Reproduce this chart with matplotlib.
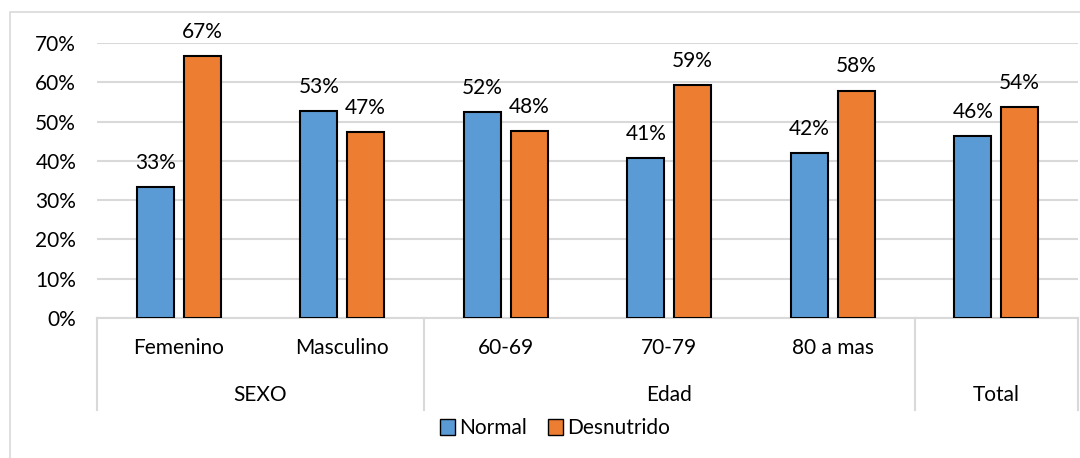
import numpy as np
import matplotlib.pyplot as plt
from matplotlib.patches import Rectangle, Patch
import matplotlib.transforms as mtransforms

plt.rcParams['font.family'] = ['Lato', 'DejaVu Sans']

# datos
categorias = ["Femenino", "Masculino", "60-69", "70-79", "80 a mas", ""]
grupos = ["SEXO", "Edad", "Total"]
grupo_tam = [2, 3, 1]
normal = [33.3, 52.6, 52.4, 40.7, 42.1, 46.3]
desnutrido = [66.7, 47.4, 47.6, 59.3, 57.9, 53.7]

azul = "#5B9BD5"
naranja = "#ED7D31"
gris = "#D9D9D9"
fs = 15

fig = plt.figure(figsize=(10.8, 4.58), dpi=100)
ax = fig.add_axes([97 / 1080, 1 - 318 / 458, (1078 - 97) / 1080, (318 - 43) / 458])

x = np.arange(len(categorias))
w = 0.226
off = 0.143
b1 = ax.bar(x - off, np.array(normal) / 100, w, color=azul, edgecolor="black", linewidth=1.5, zorder=3)
b2 = ax.bar(x + off, np.array(desnutrido) / 100, w, color=naranja, edgecolor="black", linewidth=1.5, zorder=3)

for bars, vals in [(b1, normal), (b2, desnutrido)]:
    for b, v in zip(bars, vals):
        ax.annotate(f"{round(v)}%", (b.get_x() + b.get_width() / 2, v / 100),
                    xytext=(0, 13), textcoords="offset points",
                    ha="center", va="baseline", fontsize=fs)

ax.set_xlim(-0.5, len(categorias) - 0.5)
ax.set_ylim(0, 0.7)
ax.set_yticks(np.arange(0, 0.71, 0.1))
ax.set_yticklabels([f"{int(round(t * 100))}%" for t in np.arange(0, 0.71, 0.1)], fontsize=fs)
ax.tick_params(axis="y", length=0, pad=15)
ax.set_xticks([])
ax.yaxis.grid(True, color=gris, linewidth=1.5, zorder=0)
for s in ["top", "right", "left"]:
    ax.spines[s].set_visible(False)
ax.spines["bottom"].set_color(gris)
ax.spines["bottom"].set_linewidth(1.5)

# eje de categorias en dos niveles
trans = mtransforms.blended_transform_factory(ax.transData, ax.transAxes)
y_fondo = -0.3345
for i, c in enumerate(categorias):
    ax.text(i, -0.109, c, transform=trans, ha="center", va="center", fontsize=fs)
inicio = 0
bordes = [-0.5]
for g, n in zip(grupos, grupo_tam):
    centro = inicio + (n - 1) / 2
    ax.text(centro, -0.28, g, transform=trans, ha="center", va="center", fontsize=fs)
    inicio += n
    bordes.append(inicio - 0.5)
for bx in bordes:
    ax.plot([bx, bx], [0, y_fondo], transform=trans, color=gris, linewidth=1.5, clip_on=False)

# marco exterior
fig.patches.append(Rectangle((10 / 1080, -0.1), 1.2, 1.1 - 12 / 458, transform=fig.transFigure,
                             fill=False, edgecolor=gris, linewidth=1.2))

fig.legend(handles=[Patch(facecolor=azul, edgecolor="black", label="Normal"),
                    Patch(facecolor=naranja, edgecolor="black", label="Desnutrido")],
           loc="center", bbox_to_anchor=(555 / 1080, 1 - 428 / 458), ncol=2, frameon=False,
           fontsize=fs, handlelength=0.7, handleheight=0.8, handletextpad=0.2, columnspacing=1.0)

fig.savefig("out.png", dpi=100)
